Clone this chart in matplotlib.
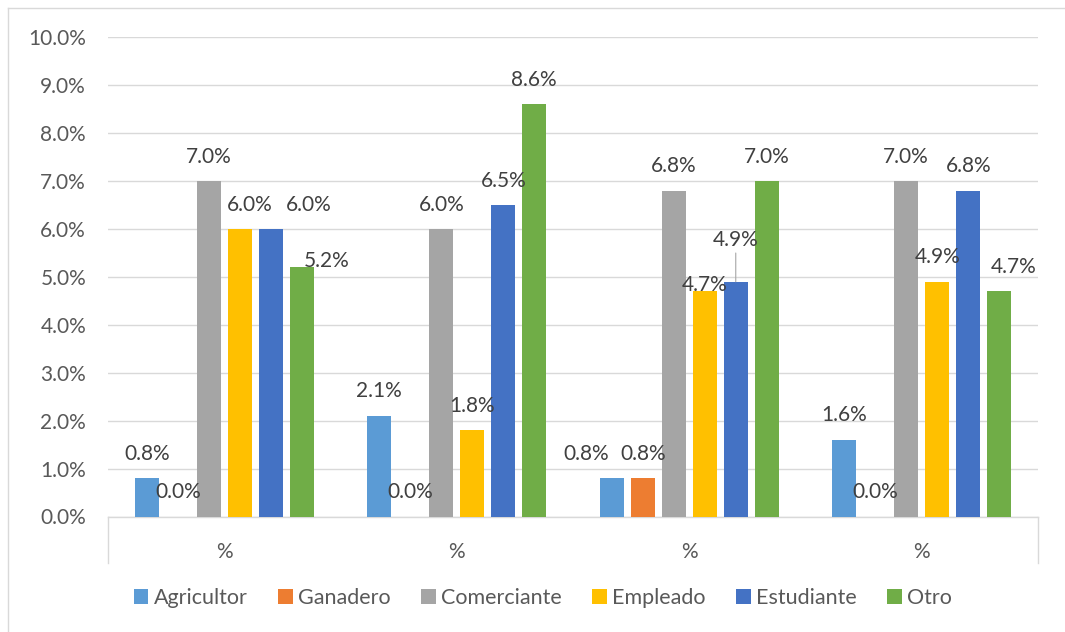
import matplotlib
matplotlib.use('Agg')
import matplotlib.pyplot as plt
import numpy as np
from matplotlib.patches import Patch
from matplotlib.lines import Line2D
from matplotlib.ticker import FuncFormatter

plt.rcParams['font.family'] = ['Lato', 'DejaVu Sans']

# ---- data ----
categories = ['%', '%', '%', '%']
series_names = ['Agricultor', 'Ganadero', 'Comerciante', 'Empleado', 'Estudiante', 'Otro']
agricultor = [0.8, 2.1, 0.8, 1.6]
ganadero = [0.0, 0.0, 0.8, 0.0]
comerciante = [7.0, 6.0, 6.8, 7.0]
empleado = [6.0, 1.8, 4.7, 4.9]
estudiante = [6.0, 6.5, 4.9, 6.8]
otro = [5.2, 8.6, 7.0, 4.7]
y_ticks = [0, 1, 2, 3, 4, 5, 6, 7, 8, 9, 10]

# ---- style ----
colors = ['#5B9BD5', '#ED7D31', '#A5A5A5', '#FFC000', '#4472C4', '#70AD47']
# manual label nudges (pixels): dx right, dy down
label_dx = [[0, 0, -26, 0],
            [0, 0, 0, 0],
            [0, 0, 0, 0],
            [10, 0, 0, 0],
            [38, 0, 0, 0],
            [25, 0, 0, 14]]
label_dy = [[0, 0, 0, 0],
            [0, 0, 0, 0],
            [0, 0, 0, 0],
            [0, 0, 18, 0],
            [0, 0, -17, 0],
            [18, 0, 0, 0]]
leader = [[False] * 4 for _ in range(6)]
leader[4][2] = True

W, H = 1065, 632
fig = plt.figure(figsize=(W / 100, H / 100), dpi=100)
ax_left, ax_right, ax_top, ax_bottom = 108, 1038, 37.4, 516.5
ax = fig.add_axes([ax_left / W, 1 - ax_bottom / H, (ax_right - ax_left) / W, (ax_bottom - ax_top) / H])

all_series = [agricultor, ganadero, comerciante, empleado, estudiante, otro]
x = np.arange(len(categories))
group_px = (ax_right - ax_left) / len(categories)
step = 31 / group_px
width = 24.3 / group_px

for i, (name, vals, c) in enumerate(zip(series_names, all_series, colors)):
    offs = (i - 2.5) * step
    bars = ax.bar(x + offs, vals, width, color=c, label=name, zorder=3)
    for j, (b, v) in enumerate(zip(bars, vals)):
        dx, dy = label_dx[i][j], label_dy[i][j]
        kw = {}
        if leader[i][j]:
            kw['arrowprops'] = dict(arrowstyle='-', color='#A6A6A6', lw=0.8,
                                    shrinkA=0, shrinkB=0)
        ax.annotate(f'{v:.1f}%', xy=(b.get_x() + b.get_width() / 2, v),
                    xytext=(dx, 18.5 - dy), textcoords='offset pixels',
                    ha='center', va='baseline', fontsize=15, color='#404040',
                    zorder=4, **kw)

ax.set_xlim(-0.5, len(categories) - 0.5)
ax.set_ylim(0, 10)
ax.set_yticks(y_ticks)
ax.yaxis.set_major_formatter(FuncFormatter(lambda v, p: f'{v:.1f}%'))
ax.set_xticks(x, categories)
ax.tick_params(axis='y', length=0, pad=15.8, labelsize=15, labelcolor='#595959')
ax.tick_params(axis='x', length=0, pad=18, labelsize=15, labelcolor='#595959')
ax.yaxis.grid(True, color='#D9D9D9', lw=1.0, zorder=0)
ax.set_axisbelow(True)
for s in ['top', 'left', 'right']:
    ax.spines[s].set_visible(False)
ax.spines['bottom'].set_color('#D9D9D9')
ax.spines['bottom'].set_linewidth(1.0)

ax_h = ax_bottom - ax_top
drop = 46.5 / ax_h
for xx in (0, 1):
    ax.add_line(Line2D([xx, xx], [0, -drop], transform=ax.transAxes,
                       color='#D9D9D9', lw=1.0, clip_on=False))

# chart border
fig.add_artist(Line2D([8 / W, 1.01], [1 - 8 / H, 1 - 8 / H], transform=fig.transFigure,
                      color='#D9D9D9', lw=1.0))
fig.add_artist(Line2D([8 / W, 8 / W], [1 - 8 / H, -0.01], transform=fig.transFigure,
                      color='#D9D9D9', lw=1.0))

handles = [Patch(facecolor=c, edgecolor='none') for c in colors]
fig.legend(handles, series_names, loc='center', bbox_to_anchor=(543 / W, 1 - 598 / H),
           ncol=6, frameon=False, fontsize=15.5, handlelength=0.66, handleheight=0.66,
           handletextpad=0.25, columnspacing=1.43, labelcolor='#595959',
           borderpad=0, borderaxespad=0)

fig.savefig('out.png', dpi=100, facecolor='white')
